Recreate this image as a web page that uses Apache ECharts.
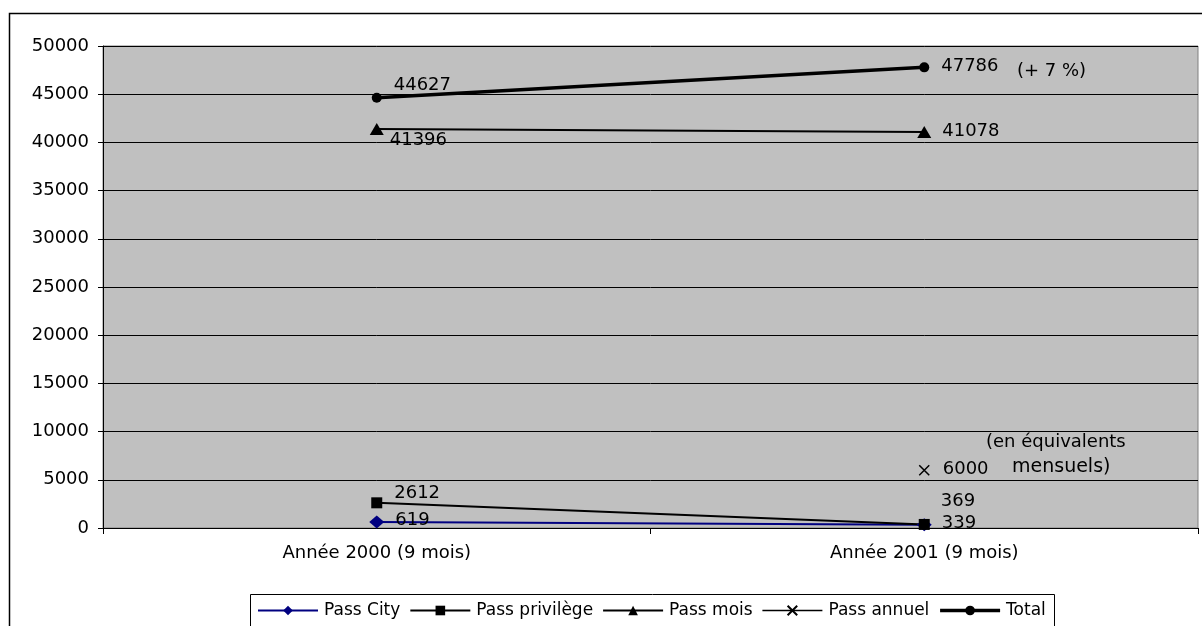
<!DOCTYPE html>
<html>
<head>
<meta charset="utf-8">
<script src="https://cdn.jsdelivr.net/npm/echarts@6/dist/echarts.min.js"></script>
<style>
  html, body { margin: 0; padding: 0; background: #ffffff; }
  #chart { width: 1202px; height: 626px; }
</style>
</head>
<body>
<div id="chart"></div>
<script>
// Abonnements vendus sur 9 mois, par type de pass
const categories = ['Année 2000 (9 mois)', 'Année 2001 (9 mois)'];
const passCity = [619, 339];
const passPrivilege = [2612, 369];
const passMois = [41396, 41078];
const passAnnuel = [null, 6000];
const total = [44627, 47786];
const yTicks = { min: 0, max: 50000, interval: 5000 };

const FONT = 'DejaVu Sans';

// Label placement per point: [dx, dy] offsets from the default right-hand position
function labelled(values, offsets) {
  return values.map((v, i) => {
    if (v == null) return null;
    const o = offsets[i] || [0, 0];
    return {
      value: v,
      label: { show: true, position: 'right', distance: 6, offset: o }
    };
  });
}

const labelStyle = { color: '#000', fontFamily: FONT, fontSize: 18 };

const chart = echarts.init(document.getElementById('chart'), null, { renderer: 'canvas' });

chart.setOption({
  animation: false,
  backgroundColor: '#ffffff',
  textStyle: { fontFamily: FONT },
  grid: {
    left: 103, right: 4, top: 46, bottom: 98,
    show: true, backgroundColor: '#C0C0C0', borderColor: '#808080', borderWidth: 1,
    containLabel: false
  },
  legend: {
    left: 252, top: 597,
    itemWidth: 60, itemHeight: 12, itemGap: 9,
    textStyle: { color: '#000', fontFamily: FONT, fontSize: 17, padding: [0, 0, 0, 1] },
    data: [
      { name: 'Pass City', lineStyle: { width: 2 } },
      { name: 'Pass privilège', lineStyle: { width: 2 } },
      { name: 'Pass mois', lineStyle: { width: 2 } },
      { name: 'Pass annuel', lineStyle: { width: 1.5 } },
      { name: 'Total', lineStyle: { width: 3.5 } }
    ]
  },
  xAxis: {
    type: 'category',
    data: categories,
    boundaryGap: true,
    axisLine: { lineStyle: { color: '#000', width: 1 } },
    axisTick: { show: true, length: 6, lineStyle: { color: '#000' } },
    axisLabel: { color: '#000', fontFamily: FONT, fontSize: 18, margin: 16 },
    splitLine: { show: false }
  },
  yAxis: {
    type: 'value',
    min: yTicks.min, max: yTicks.max, interval: yTicks.interval,
    axisLine: { show: true, lineStyle: { color: '#000', width: 1 } },
    axisTick: { show: true, length: 5, lineStyle: { color: '#000' } },
    axisLabel: { color: '#000', fontFamily: FONT, fontSize: 18, margin: 14,
                 formatter: v => String(v) },
    splitLine: { show: true, lineStyle: { color: '#000', width: 1 } }
  },
  series: [
    {
      name: 'Pass City', type: 'line',
      data: labelled(passCity, [[5, -2], [4, -1]]),
      symbol: 'diamond', symbolSize: [15, 13],
      lineStyle: { color: '#000080', width: 2 },
      itemStyle: { color: '#000080' },
      label: labelStyle, z: 3
    },
    {
      name: 'Pass privilège', type: 'line',
      data: labelled(passPrivilege, [[6, -9], [5, -23]]),
      symbol: 'rect', symbolSize: 11,
      lineStyle: { color: '#000', width: 2 },
      itemStyle: { color: '#000' },
      label: labelStyle, z: 3
    },
    {
      name: 'Pass mois', type: 'line',
      data: labelled(passMois, [[0, 11], [5, -1]]),
      symbol: 'triangle', symbolSize: [14, 12],
      lineStyle: { color: '#000', width: 2 },
      itemStyle: { color: '#000' },
      label: labelStyle, z: 3
    },
    {
      name: 'Pass annuel', type: 'line',
      data: labelled(passAnnuel, [null, [5, -1]]),
      symbol: 'path://M0,0L10,10M10,0L0,10', symbolSize: 10,
      lineStyle: { color: '#000', width: 1.5 },
      itemStyle: { color: 'none', borderColor: '#000', borderWidth: 1.5 },
      label: labelStyle, z: 3
    },
    {
      name: 'Total', type: 'line',
      data: labelled(total, [[6, -12], [6, -1]]),
      symbol: 'circle', symbolSize: 10,
      lineStyle: { color: '#000', width: 3.5 },
      itemStyle: { color: '#000' },
      label: labelStyle, z: 4
    }
  ],
  graphic: [
    // Outer chart frame
    { type: 'rect', left: 7, top: 11, silent: true,
      shape: { x: 0.5, y: 0.5, width: 1400, height: 800 },
      style: { fill: 'none', stroke: '#000', lineWidth: 1.5 }, z: 0 },
    // Legend frame
    { type: 'rect', left: 248, top: 592, silent: true,
      shape: { x: 0.5, y: 0.5, width: 804, height: 100 },
      style: { fill: 'none', stroke: '#000', lineWidth: 1 }, z: 0 },
    // Annotations
    { type: 'text', left: 1017, top: 62, silent: true,
      style: { text: '(+ 7 %)', fill: '#000', font: '18px "DejaVu Sans"' }, z: 10 },
    { type: 'text', left: 986, top: 433, silent: true,
      style: { text: '(en équivalents', fill: '#000', font: '18px "DejaVu Sans"' }, z: 10 },
    { type: 'text', left: 1012, top: 458, silent: true,
      style: { text: 'mensuels)', fill: '#000', font: '19px "DejaVu Sans"' }, z: 10 }
  ]
});
</script>
</body>
</html>
